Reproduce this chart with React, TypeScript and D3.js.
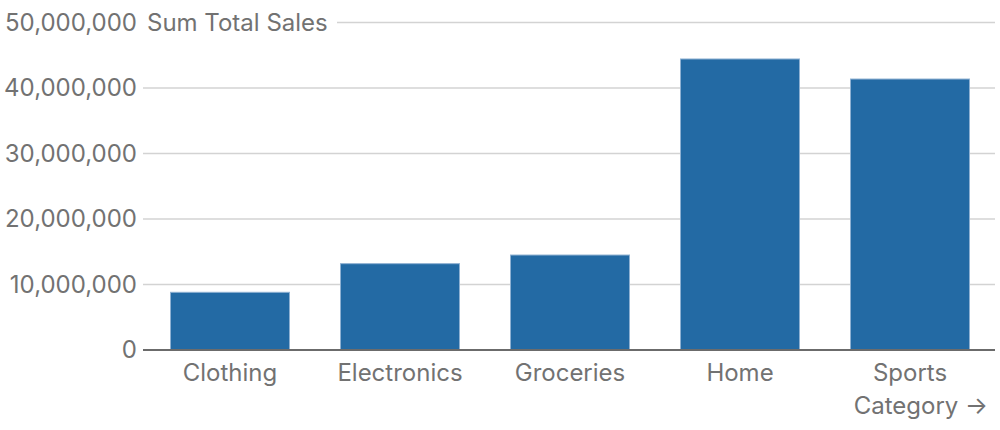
import React from "react";
import * as d3 from "d3";

const categories = ["Clothing", "Electronics", "Groceries", "Home", "Sports"];
const sales = [8810000, 13180000, 14500000, 44430000, 41370000];
const yTicks = [0, 10000000, 20000000, 30000000, 40000000, 50000000];
const yTitle = "Sum Total Sales";
const xTitle = "Category →";

export default function App() {
  const width = 1000;
  const height = 430;
  const left = 145;
  const right = 995;
  const x = d3.scaleBand<string>().domain(categories).range([left, right]).paddingInner(0.3).paddingOuter(0.15);
  const y = d3.scaleLinear().domain([0, 50000000]).range([350, 22.5]);
  const fmt = d3.format(",");
  const font = "Inter, 'Noto Sans', sans-serif";
  const textColor = "#727272";
  const fs = 24;
  return (
    <svg width={width} height={height} style={{ position: "absolute", left: 0, top: 0 }} fontFamily={font}>
      {yTicks.map((t) => {
        const isTop = t === yTicks[yTicks.length - 1];
        return (
          <g key={t}>
            {t !== 0 && (
              <line x1={isTop ? 337 : 143} x2={right} y1={y(t)} y2={y(t)} stroke="#d3d3d3" strokeWidth={1.5} />
            )}
            <text x={137} y={y(t)} dy="0.35em" textAnchor="end" fontSize={fs} fill={textColor}>
              {fmt(t)}
            </text>
          </g>
        );
      })}
      <text x={147} y={y(50000000)} dy="0.35em" fontSize={fs} fill={textColor}>{yTitle}</text>
      {categories.map((c, i) => (
        <rect key={c} x={x(c)} y={y(sales[i])} width={x.bandwidth()} height={y(0) - y(sales[i])}
          fill="#236aa4" stroke="#8fb1d2" strokeWidth={1} />
      ))}
      <line x1={143} x2={right} y1={y(0)} y2={y(0)} stroke="#6b6b6b" strokeWidth={2} />
      {categories.map((c) => (
        <text key={c} x={(x(c) as number) + x.bandwidth() / 2} y={381} textAnchor="middle" fontSize={fs} fill={textColor}>{c}</text>
      ))}
      <text x={988} y={414} textAnchor="end" fontSize={fs} fill={textColor}>{xTitle}</text>
    </svg>
  );
}
